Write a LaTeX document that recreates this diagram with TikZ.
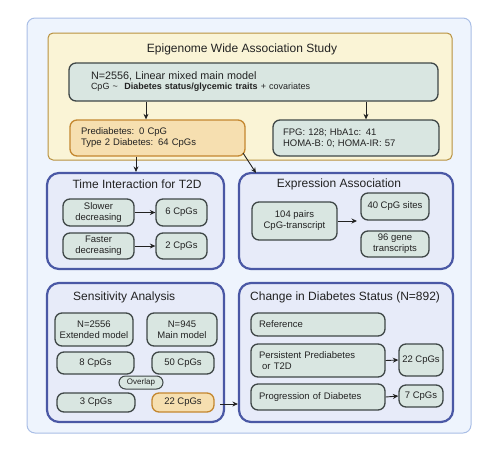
\documentclass[tikz,border=0pt]{standalone}
\usepackage{fontspec}
\setmainfont{Liberation Sans}
\usetikzlibrary{arrows.meta}
\definecolor{outerfill}{HTML}{EEF4FD}
\definecolor{outerdraw}{HTML}{A9BEE6}
\definecolor{yelfill}{HTML}{FAF4D6}
\definecolor{yeldraw}{HTML}{B8913F}
\definecolor{tealfill}{HTML}{D9E6E1}
\definecolor{tealdraw}{HTML}{3F4747}
\definecolor{orgfill}{HTML}{F6DFB0}
\definecolor{orgdraw}{HTML}{C4872F}
\definecolor{panfill}{HTML}{E7EBF9}
\definecolor{pandraw}{HTML}{4A58A5}
\definecolor{txt}{HTML}{222222}
\newcommand{\mybox}[7]{\node[#2, minimum width={(#5-#3)*1pt}, minimum height={(#6-#4)*1pt}] (#1) at ({(#3+#5)/2},{(#4+#6)/2}) {#7};}
\newcommand{\myleftbox}[8]{\node[#2, minimum height={(#6-#4)*1pt}, inner xsep=#7pt, text width={(#5-#3-2*#7)*1pt}, align=left] (#1) at ({(#3+#5)/2},{(#4+#6)/2}) {#8};}
\tikzset{
  outerbox/.style={draw=outerdraw, fill=outerfill, line width=1pt, rounded corners=8pt, inner sep=0pt},
  yelbox/.style={draw=yeldraw, fill=yelfill, line width=1pt, rounded corners=5pt, inner sep=0pt},
  panel/.style={draw=pandraw, fill=panfill, line width=2.2pt, rounded corners=12pt, inner sep=0pt},
  tealbox/.style={draw=tealdraw, fill=tealfill, line width=1.3pt, rounded corners=7pt, inner sep=0pt, text=txt, font=\fontsize{9.5}{11}\selectfont, align=center},
  orgbox/.style={tealbox, draw=orgdraw, fill=orgfill},
  ptitle/.style={text=txt, font=\fontsize{12}{14}\selectfont, inner sep=0pt},
  arr/.style={draw=txt, line width=0.9pt, -{Stealth[length=5.5pt,width=5pt]}}
}
\begin{document}
\begin{tikzpicture}[x=1pt,y=-1pt]
\useasboundingbox (0,0) rectangle (497,458);
\mybox{outer}{outerbox}{27}{18}{471}{433}{}
\mybox{ewas}{yelbox}{48}{33}{452}{160}{}
\node[ptitle] (ewastitle) at (242,49) {Epigenome Wide Association Study};
\myleftbox{main}{tealbox}{69}{63}{438}{101}{22}{{\fontsize{10.8}{12}\selectfont N=2556, Linear mixed main model}\\[-1pt]{\fontsize{9}{11}\selectfont CpG \textasciitilde\ \ \textbf{Diabetes status/glycemic traits} + covariates}}
\myleftbox{prediab}{orgbox}{70}{120}{245}{156}{11}{Prediabetes: 0 CpG\\Type 2 Diabetes: 64 CpGs}
\myleftbox{fpg}{tealbox}{273}{120}{439}{156}{10}{FPG: 128; HbA1c: 41\\HOMA-B: 0; HOMA-IR: 57}
% panels
\mybox{time}{panel}{47}{173}{224}{269}{}
\node[ptitle] (timetitle) at (137,184) {Time Interaction for T2D};
\mybox{expr}{panel}{239}{173}{453}{269}{}
\node[ptitle] (exprtitle) at (339,184) {Expression Association};
\mybox{sens}{panel}{47}{283}{224}{422}{}
\node[ptitle, anchor=west] (senstitle) at (73,297) {Sensitivity Analysis};
\mybox{change}{panel}{239}{283}{453}{422}{}
\node[ptitle, anchor=west] (changetitle) at (250,297) {Change in Diabetes Status (N=892)};
% time
\mybox{slower}{tealbox}{63}{199}{134}{226}{Slower\\decreasing}
\mybox{six}{tealbox}{156}{199}{207}{226}{6 CpGs}
\mybox{faster}{tealbox}{63}{233}{134}{259}{Faster\\decreasing}
\mybox{two}{tealbox}{156}{233}{207}{259}{2 CpGs}
% expression
\mybox{pairs}{tealbox}{252}{202}{337}{240}{104 pairs\\CpG-transcript}
\mybox{forty}{tealbox}{361}{193}{429}{220}{40 CpG sites}
\mybox{gene}{tealbox}{361}{231}{429}{257}{96 gene\\transcripts}
\coordinate (pairsend) at (357,221);
% sensitivity
\mybox{ext}{tealbox}{55}{313}{133}{346}{N=2556\\Extended model}
\mybox{mm}{tealbox}{147}{313}{217}{346}{N=945\\Main model}
\mybox{eight}{tealbox}{57}{352}{134}{374}{8 CpGs}
\mybox{fifty}{tealbox}{152}{352}{214}{374}{50 CpGs}
\mybox{overlap}{tealbox, line width=1pt, rounded corners=6.5pt, font=\fontsize{8}{9}\selectfont}{119}{376}{163}{389}{Overlap}
\mybox{three}{tealbox}{57}{393}{135}{412}{3 CpGs}
\mybox{tt}{orgbox}{152}{393}{214}{412}{22 CpGs}
% change
\myleftbox{ref}{tealbox}{251}{313}{385}{336}{8}{Reference}
\myleftbox{pers}{tealbox}{251}{344}{385}{377}{8}{Persistent Prediabetes\\\ or T2D}
\mybox{ttb}{tealbox}{399}{344}{443}{376}{22 CpGs}
\myleftbox{prog}{tealbox}{251}{384}{385}{410}{8}{Progression of Diabetes}
\mybox{seven}{tealbox}{399}{385}{443}{407}{7 CpGs}
% arrows
\draw[arr] (main.south -| 146,0) -- (prediab.north -| 146,0);
\draw[arr] (main.south -| 366,0) -- (fpg.north -| 366,0);
\draw[arr] (prediab.south -| 136,0) -- (time.north -| 136,0);
\draw[arr] (243,153) -- (256,173);
\draw[arr] (slower.east) -- (six.west);
\draw[arr] (faster.east) -- (two.west);
\draw[arr] (pairs.east |- 0,221) -- (pairsend);
\draw[arr] (pers.east) -- (ttb.west);
\draw[arr] (prog.east) -- (seven.west);
\draw[arr] (220,404) -- (change.west |- 0,404);
\end{tikzpicture}
\end{document}
